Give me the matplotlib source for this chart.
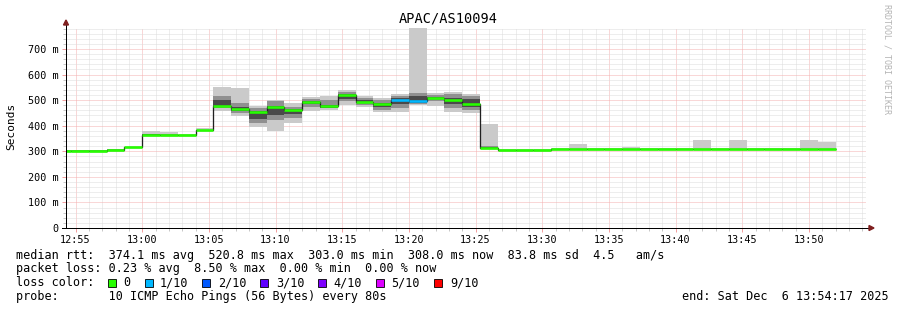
import numpy as np
import matplotlib
matplotlib.use("Agg")
import matplotlib.pyplot as plt
from matplotlib.patches import Rectangle, Polygon
from matplotlib.lines import Line2D
from matplotlib.ticker import MultipleLocator, FuncFormatter

W, H = 897, 310

# ---------------- data ----------------
title = "APAC/AS10094"
y_label = "Seconds"
# first 80 s bin starts 12:53:20 (minutes since midnight)
bin_start = 12 * 60 + 53 + 20 / 60
bin_step = 80 / 60
view_start = 12 * 60 + 54 + 17 / 60
view_end = view_start + 60

median = [303, 303, 303, 306, 315, 365, 364, 363, 382, 478,
          467, 452, 475, 463, 494, 477, 520, 494, 484, 502,
          497, 509, 500, 486, 313, 305, 305, 305, 308, 308,
          308, 308, 308, 308, 308, 308, 308, 308, 308, 308,
          308, 308, 308, 308]
loss_tenths = [0] * 19 + [1, 1] + [0] * 23

outer_lo = [302, 302, 302, 305, 313, 360, 360, 361, 378, 457,
            437, 393, 379, 409, 457, 462, 480, 474, 452, 452,
            480, 478, 455, 448, 308, 303, 303, 303, 306, 306,
            306, 306, 306, 306, 306, 306, 306, 306, 306, 306,
            306, 306, 306, 306]
outer_hi = [305, 305, 305, 308, 318, 380, 377, 366, 392, 552,
            548, 478, 501, 488, 512, 516, 539, 517, 507, 524,
            782, 529, 533, 522, 405, 308, 308, 308, 311, 328,
            311, 311, 318, 311, 311, 311, 344, 311, 344, 311,
            311, 311, 344, 336]
mid_lo = [303, 303, 303, 306, 315, 362, 362, 362, 380, 468,
          448, 412, 422, 429, 475, 468, 497, 482, 462, 470,
          485, 495, 470, 462, 310, 304, 304, 304, 307, 307,
          307, 307, 307, 307, 307, 307, 307, 307, 307, 307,
          307, 307, 307, 307]
mid_hi = [304, 304, 304, 307, 316, 368, 366, 365, 385, 517,
          490, 470, 495, 475, 505, 500, 530, 508, 500, 515,
          527, 520, 525, 515, 320, 306, 306, 306, 309, 309,
          309, 309, 309, 309, 309, 309, 309, 309, 309, 309,
          309, 309, 309, 309]
inner_lo = [303, 303, 303, 306, 315, 363, 363, 363, 381, 478,
            456, 425, 442, 445, 485, 470, 505, 488, 472, 485,
            490, 503, 485, 475, 311, 305, 305, 305, 308, 308,
            308, 308, 308, 308, 308, 308, 308, 308, 308, 308,
            308, 308, 308, 308]
inner_hi = [303, 303, 303, 306, 315, 366, 365, 364, 383, 500,
            475, 458, 478, 466, 498, 482, 522, 500, 490, 508,
            515, 512, 510, 505, 315, 305, 305, 305, 308, 308,
            308, 308, 308, 308, 308, 308, 308, 308, 308, 308,
            308, 308, 308, 308]

loss_levels = [0, 1, 2, 3, 4, 5, 9]
loss_labels = ["0", "1/10", "2/10", "3/10", "4/10", "5/10", "9/10"]
loss_colors = ["#26ff00", "#00b8ff", "#0059ff", "#5e00ff", "#7e00ff", "#dd00ff", "#ff0000"]

legend_rtt = "median rtt:  374.1 ms avg  520.8 ms max  303.0 ms min  308.0 ms now  83.8 ms sd  4.5   am/s"
legend_loss = "packet loss: 0.23 % avg  8.50 % max  0.00 % min  0.00 % now"
legend_color_head = "loss color:"
legend_probe = "probe:       10 ICMP Echo Pings (56 Bytes) every 80s"
legend_end = "end: Sat Dec  6 13:54:17 2025"
watermark = "RRDTOOL / TOBI OETIKER"

# ---------------- drawing ----------------
MONO = "DejaVu Sans Mono"
PX = 0.72  # one pixel in points at 100 dpi

fig = plt.figure(figsize=(W / 100, H / 100), dpi=100)
fig.patch.set_facecolor("white")


def fx(x):
    return x / W


def fy(y):
    return 1 - y / H


ax = fig.add_axes([fx(66), fy(228), 800 / W, 200 / H])
ax.set_facecolor("white")

n = len(median)
edges = bin_start + bin_step * np.arange(n + 1)

ax.stairs(outer_hi, edges, baseline=outer_lo, fill=True, color="#cacaca", lw=0, zorder=2)
ax.stairs(mid_hi, edges, baseline=mid_lo, fill=True, color="#909090", lw=0, zorder=3)
ax.stairs(inner_hi, edges, baseline=inner_lo, fill=True, color="#4a4a4a", lw=0, zorder=4)
ax.stairs(median, edges, baseline=None, color="#202020", lw=1.3 * PX, zorder=5)
idx = np.searchsorted(loss_levels, loss_tenths)
seg_colors = [loss_colors[i] for i in idx]
ax.hlines(median, edges[:-1], edges[1:], colors=seg_colors, lw=2.6 * PX, zorder=6)

ax.set_xlim(view_start, view_end)
ax.set_ylim(0, max(outer_hi))

ax.xaxis.set_major_locator(MultipleLocator(5))
ax.xaxis.set_minor_locator(MultipleLocator(1))
ax.yaxis.set_major_locator(MultipleLocator(100))
ax.yaxis.set_minor_locator(MultipleLocator(20))
ax.xaxis.set_major_formatter(FuncFormatter(lambda v, p: "%02d:%02d" % (int(round(v)) // 60 % 24, int(round(v)) % 60)))
ax.yaxis.set_major_formatter(FuncFormatter(lambda v, p: "0" if v == 0 else "%d m" % round(v)))

ax.set_axisbelow(True)
ax.grid(which="minor", color="#dcdcdc", linestyle=(0, (1, 1)), lw=PX, zorder=0)
ax.grid(which="major", color="#f5b0b0", linestyle=(0, (1, 1)), lw=PX, zorder=1)

ax.tick_params(which="major", length=3, width=PX, color="#f2a0a0", direction="out",
               labelsize=7.3, pad=2.2)
ax.tick_params(which="minor", length=2, width=PX, color="#c8c8c8", direction="out")
for lab in ax.get_xticklabels() + ax.get_yticklabels():
    lab.set_fontfamily(MONO)

for s in ax.spines.values():
    s.set_visible(False)

# axis lines with arrows
ax.add_line(Line2D([0, 0], [0, 1 + 6 / 200], transform=ax.transAxes, color="#000000",
                   lw=PX, clip_on=False, zorder=7))
ax.add_line(Line2D([-4 / 800, 1 + 4 / 800], [0, 0], transform=ax.transAxes, color="#000000",
                   lw=PX, clip_on=False, zorder=7))
arrow_col = "#7f1f1f"
fig.patches.append(Polygon([[fx(63.5), fy(25)], [fx(68.5), fy(25)], [fx(66), fy(20)]],
                           closed=True, transform=fig.transFigure, color=arrow_col))
fig.patches.append(Polygon([[fx(869), fy(225.5)], [fx(869), fy(230.5)], [fx(874), fy(228)]],
                           closed=True, transform=fig.transFigure, color=arrow_col))

# texts
fig.text(fx(448), fy(19), title, ha="center", va="center", fontsize=9.8, family=MONO)
fig.text(fx(11), fy(126), y_label, ha="center", va="center", rotation=90, fontsize=8, family=MONO)
fig.text(fx(887), fy(4), watermark, ha="center", va="top", rotation=270, fontsize=6,
         family=MONO, color="#b4b4b4")

LFS = 8.5
fig.text(fx(16), fy(255), legend_rtt, ha="left", va="center", fontsize=LFS, family=MONO)
fig.text(fx(16), fy(268.5), legend_loss, ha="left", va="center", fontsize=LFS, family=MONO)
fig.text(fx(16), fy(282.5), legend_color_head, ha="left", va="center", fontsize=LFS, family=MONO)
fig.text(fx(16), fy(296.5), legend_probe, ha="left", va="center", fontsize=LFS, family=MONO)
fig.text(fx(889), fy(296.5), legend_end, ha="right", va="center", fontsize=LFS, family=MONO)

box_x = [108, 145, 202, 260, 318, 376, 434]
text_x = [123, 160, 218, 276, 333, 391, 450]
for bx, tx, col, lab in zip(box_x, text_x, loss_colors, loss_labels):
    fig.patches.append(Rectangle((fx(bx), fy(287)), 8 / W, 8 / H, transform=fig.transFigure,
                                 facecolor=col, edgecolor="#000000", lw=0.6))
    fig.text(fx(tx), fy(282.5), lab, ha="left", va="center", fontsize=LFS, family=MONO)

fig.savefig("out.png", dpi=100, facecolor="white")
